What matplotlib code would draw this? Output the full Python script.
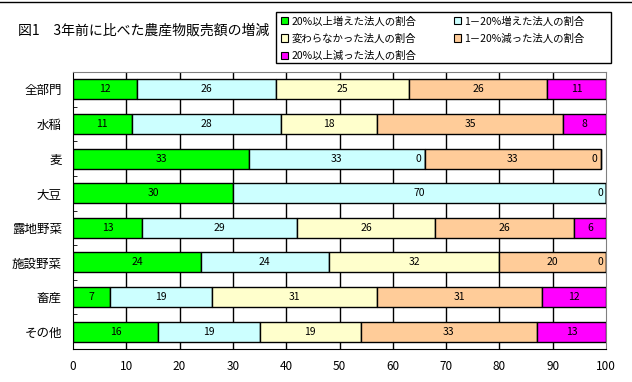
import matplotlib.pyplot as plt
import numpy as np
from matplotlib.patches import Patch, Rectangle
from matplotlib.lines import Line2D

plt.rcParams['font.family'] = ['Noto Sans CJK JP', 'DejaVu Sans']

# カテゴリと系列データ（%）
categories = ['全部門', '水稲', '麦', '大豆', '露地野菜', '施設野菜', '畜産', 'その他']
series_names = ['20%以上増えた法人の割合', '1－20%増えた法人の割合', '変わらなかった法人の割合',
                '1－20%減った法人の割合', '20%以上減った法人の割合']
inc20 = [12, 11, 33, 30, 13, 24, 7, 16]
inc1_20 = [26, 28, 33, 70, 29, 24, 19, 19]
same = [25, 18, 0, 0, 26, 32, 31, 19]
dec1_20 = [26, 35, 33, 0, 26, 20, 31, 33]
dec20 = [11, 8, 0, 0, 6, 0, 12, 13]
x_ticks = [0, 10, 20, 30, 40, 50, 60, 70, 80, 90, 100]

colors = ['#00FF00', '#CCFFFF', '#FFFFCC', '#FFCC99', '#FF00FF']
series = [inc20, inc1_20, same, dec1_20, dec20]

fig = plt.figure(figsize=(6.32, 3.82), dpi=100)
ax = fig.add_axes([73 / 632, 1 - 349 / 382, 533 / 632, 277 / 382])

y = np.arange(len(categories))
left = np.zeros(len(categories))
zero_done = set()
for vals, col in zip(series, colors):
    vals = np.array(vals, dtype=float)
    ax.barh(y, vals, left=left, height=0.58, color=col, edgecolor='black',
            linewidth=1, zorder=3)
    for i, v in enumerate(vals):
        if v > 0:
            ax.text(left[i] + v / 2, y[i], f'{int(v)}', ha='center', va='center',
                    fontsize=7.5, zorder=4)
        elif (i, left[i]) not in zero_done:
            # 0 のラベルは区切り位置の左側に表示（同じ位置は一度だけ）
            zero_done.add((i, left[i]))
            ax.text(left[i] - 0.6, y[i], '0', ha='right', va='center',
                    fontsize=7.5, zorder=4)
    left += vals

ax.set_xlim(0, 100)
ax.set_ylim(len(categories) - 0.5, -0.5)
ax.set_xticks(x_ticks)
ax.set_xticklabels([str(t) for t in x_ticks], fontsize=8.5)
ax.set_yticks(y)
ax.set_yticklabels(categories, fontsize=9)
ax.set_yticks(np.arange(-0.5, len(categories)), minor=True)
ax.tick_params(axis='y', which='major', length=0, pad=8)
ax.tick_params(axis='y', which='minor', direction='in', length=3, color='black')
ax.tick_params(axis='x', length=0, pad=8)

# 縦の目盛線
for t in x_ticks[1:-1]:
    ax.axvline(t, color='black', linewidth=1, zorder=1)

ax.spines['top'].set_color('#808080')
ax.spines['right'].set_color('#808080')
ax.spines['left'].set_color('black')
ax.spines['bottom'].set_color('black')

fig.text(18 / 632, 1 - 31 / 382, '図1　3年前に比べた農産物販売額の増減', fontsize=10,
         va='center', ha='left')

# 凡例（行方向に並べる）、枠は別に描く
handles = [Patch(facecolor=c, edgecolor='black', linewidth=0.8) for c in colors]
order = [0, 2, 4, 1, 3]
leg = fig.legend([handles[i] for i in order], [series_names[i] for i in order],
                 ncol=2, loc='upper left',
                 bbox_to_anchor=(279 / 632, 1 - 14 / 382),
                 fontsize=7.5, frameon=False,
                 handlelength=0.7, handleheight=0.7, handletextpad=0.3,
                 borderpad=0.2, labelspacing=0.68, columnspacing=3.6, borderaxespad=0)
fig.add_artist(Rectangle((276 / 632, 1 - 63 / 382), 335 / 632, 51 / 382,
                         transform=fig.transFigure, fill=False, edgecolor='black',
                         linewidth=1))

fig.add_artist(Line2D([0, 1], [1 - 1.5 / 382, 1 - 1.5 / 382], color='black', linewidth=1))

plt.savefig('out.png', dpi=100)
